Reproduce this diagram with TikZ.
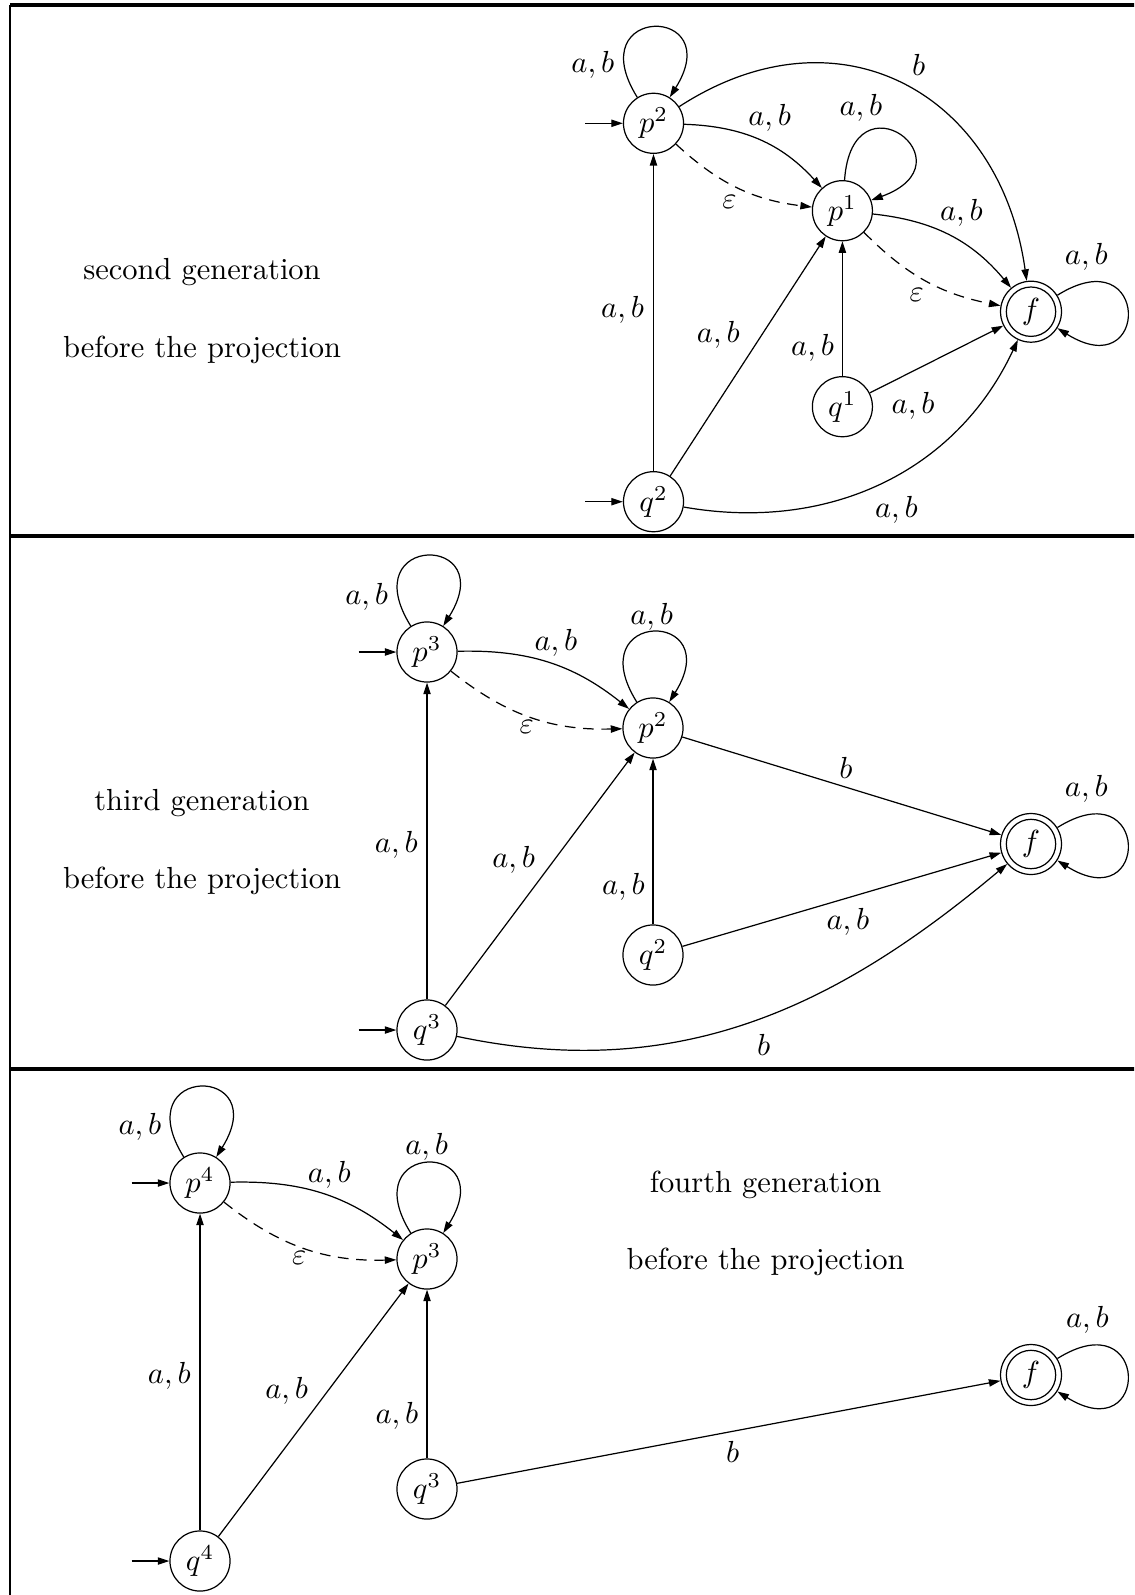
\documentclass[tikz,border=0pt]{standalone}
\usetikzlibrary{arrows.meta}
\begin{document}
\begin{tikzpicture}[x=0.328pt,y=0.328pt,
  st/.style={circle,draw,line width=0.4pt,minimum size=19.7pt,inner sep=0pt},
  fin/.style={st,minimum size=20pt},
  edge/.style={-{Triangle[length=3.8pt,width=2.4pt]},line width=0.4pt},
  eps/.style={edge,dash pattern=on 3.5pt off 2.5pt},
  lbl/.style={inner sep=0pt},
  caption/.style={anchor=base,inner sep=0pt},
  loopA/.style={out=122,in=58,distance=36pt},
  loopR/.style={out=32,in=-32,distance=36pt}]
\clip (0,0) rectangle (1134,-1595);
% frame
\draw[line width=1pt] (10,-5) -- (1140,-5);
\draw[line width=0.85pt] (10,-4.5) -- (10,-1600);
\draw[line width=1.1pt] (10,-536) -- (1140,-536);
\draw[line width=1.2pt] (10,-1069) -- (1140,-1069);

% ================= panel 1 =================
\node[caption] (t1a) at (202,-279) {second generation};
\node[caption] (t1b) at (202,-357) {before the projection};
\node[st] (p2a) at (653.5,-123.3) {$p^2$};
\node[st] (p1a) at (842.4,-210.7) {$p^1$};
\node[fin] (fa) at (1031,-311.7) {$f$};
\draw (fa) circle[radius=8.1pt];
\node[st] (q1a) at (842.4,-406.7) {$q^1$};
\node[st] (q2a) at (653.5,-501.7) {$q^2$};
\coordinate (ip2a) at (585,-123.3);
\coordinate (iq2a) at (585,-501.7);
\draw[edge] (ip2a) -- (p2a);
\draw[edge] (iq2a) -- (q2a);
\draw[edge] (p2a) to[loopA] (p2a);
\draw[edge] (p2a) to[out=33,in=98,looseness=1.25] (fa);
\draw[edge] (p2a) to[bend left=23] (p1a);
\draw[eps] (p2a) to[bend right=18] (p1a);
\draw[edge] (p1a) to[out=86,in=20,distance=36pt] (p1a);
\draw[edge] (p1a) to[bend left=22] (fa);
\draw[eps] (p1a) to[bend right=17] (fa);
\draw[edge] (fa) to[loopR] (fa);
\draw[edge] (q2a) -- (p2a);
\draw[edge] (q2a) -- (p1a);
\draw[edge] (q1a) -- (p1a);
\draw[edge] (q1a) -- (fa);
\draw[edge] (q2a) to[out=-10,in=-115] (fa);
\node[lbl] (la1) at (592.8,-65) {$a,b$};
\node[lbl] (la2) at (918.7,-65) {$b$};
\node[lbl] (la3) at (769.7,-118.3) {$a,b$};
\node[lbl] (la4) at (861,-108.3) {$a,b$};
\node[lbl] (la5) at (729.5,-202.3) {$\varepsilon$};
\node[lbl] (la6) at (961.5,-213.3) {$a,b$};
\node[lbl] (la7) at (1086.3,-256.7) {$a,b$};
\node[lbl] (la8) at (916.8,-295) {$\varepsilon$};
\node[lbl] (la9) at (622.6,-310) {$a,b$};
\node[lbl] (la10) at (718.3,-335) {$a,b$};
\node[lbl] (la11) at (812.6,-348.3) {$a,b$};
\node[lbl] (la12) at (913.1,-406) {$a,b$};
\node[lbl] (la13) at (896.4,-510) {$a,b$};

% ================= panel 2 =================
\node[caption] (t2a) at (202,-810) {third generation};
\node[caption] (t2b) at (202,-888.5) {before the projection};
\node[st] (p3b) at (427,-652) {$p^3$};
\node[st] (p2b) at (653,-728) {$p^2$};
\node[fin] (fb) at (1031,-844) {$f$};
\draw (fb) circle[radius=8.1pt];
\node[st] (q2b) at (653,-955) {$q^2$};
\node[st] (q3b) at (427,-1030) {$q^3$};
\coordinate (ip3b) at (358.5,-652);
\coordinate (iq3b) at (358.5,-1030);
\draw[edge] (ip3b) -- (p3b);
\draw[edge] (iq3b) -- (q3b);
\draw[edge] (p3b) to[loopA] (p3b);
\draw[edge] (p3b) to[bend left=20] (p2b);
\draw[eps] (p3b) to[bend right=20] (p2b);
\draw[edge] (p2b) to[loopA] (p2b);
\draw[edge] (p2b) -- (fb);
\draw[edge] (q2b) -- (p2b);
\draw[edge] (q2b) -- (fb);
\draw[edge] (q3b) -- (p3b);
\draw[edge] (q3b) -- (p2b);
\draw[edge] (q3b) to[out=-12,in=-140] (fb);
\draw[edge] (fb) to[loopR] (fb);
\node[lbl] (lb1) at (366.7,-596.7) {$a,b$};
\node[lbl] (lb2) at (556,-643.3) {$a,b$};
\node[lbl] (lb3) at (651.7,-616.7) {$a,b$};
\node[lbl] (lb4) at (526.7,-726.7) {$\varepsilon$};
\node[lbl] (lb5) at (396.3,-845) {$a,b$};
\node[lbl] (lb6) at (513.7,-860) {$a,b$};
\node[lbl] (lb7) at (623.4,-887.3) {$a,b$};
\node[lbl] (lb8) at (847.9,-922) {$a,b$};
\node[lbl] (lb9) at (763.7,-1045) {$b$};
\node[lbl] (lb10) at (1086.3,-789) {$a,b$};
\node[lbl] (lb11) at (846,-768) {$b$};

% ================= panel 3 =================
\node[caption] (t3a) at (765.5,-1192.5) {fourth generation};
\node[caption] (t3b) at (765.5,-1269) {before the projection};
\node[st] (p4c) at (200,-1183) {$p^4$};
\node[st] (p3c) at (427,-1259) {$p^3$};
\node[fin] (fc) at (1031,-1375) {$f$};
\draw (fc) circle[radius=8.1pt];
\node[st] (q3c) at (427,-1489) {$q^3$};
\node[st] (q4c) at (200,-1561) {$q^4$};
\coordinate (ip4c) at (131.5,-1183);
\coordinate (iq4c) at (131.5,-1561);
\draw[edge] (ip4c) -- (p4c);
\draw[edge] (iq4c) -- (q4c);
\draw[edge] (p4c) to[loopA] (p4c);
\draw[edge] (p4c) to[bend left=20] (p3c);
\draw[eps] (p4c) to[bend right=20] (p3c);
\draw[edge] (p3c) to[loopA] (p3c);
\draw[edge] (q4c) -- (p4c);
\draw[edge] (q4c) -- (p3c);
\draw[edge] (q3c) -- (p3c);
\draw[edge] (q3c) -- (fc);
\draw[edge] (fc) to[loopR] (fc);
\node[lbl] (lc1) at (140,-1126.7) {$a,b$};
\node[lbl] (lc2) at (329.3,-1175) {$a,b$};
\node[lbl] (lc3) at (426.7,-1146.7) {$a,b$};
\node[lbl] (lc4) at (299.3,-1258.3) {$\varepsilon$};
\node[lbl] (lc5) at (169.3,-1376) {$a,b$};
\node[lbl] (lc6) at (286.7,-1391) {$a,b$};
\node[lbl] (lc7) at (397,-1416) {$a,b$};
\node[lbl] (lc8) at (732.7,-1451.7) {$b$};
\node[lbl] (lc9) at (1087.5,-1320) {$a,b$};
\end{tikzpicture}
\end{document}
